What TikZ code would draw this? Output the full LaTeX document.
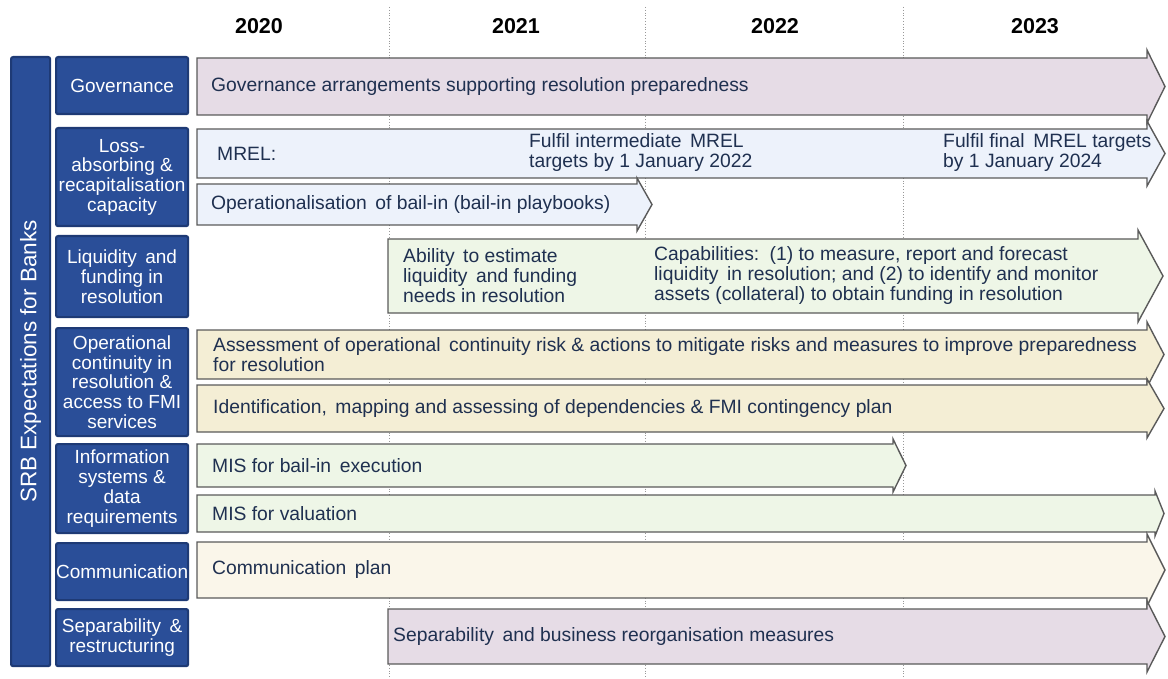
\documentclass[tikz,border=0pt]{standalone}
\usepackage{fontspec}
\setmainfont{Liberation Sans}
\definecolor{catfill}{HTML}{2A4E98}
\definecolor{catline}{HTML}{1E3A75}
\definecolor{barline}{HTML}{5A5A5A}
\definecolor{bartext}{HTML}{1F3050}
\definecolor{cpink}{HTML}{E6DCE6}
\definecolor{cblue}{HTML}{EDF2FB}
\definecolor{cgreen}{HTML}{EEF6E7}
\definecolor{cyellow}{HTML}{F4EED5}
\definecolor{ccream}{HTML}{FAF6EA}
\tikzset{
  catbox/.style={draw=catline, line width=2.2pt, fill=catfill, rounded corners=2pt,
    text=white, align=center, inner sep=0pt, anchor=north west,
    font=\fontsize{19}{19.7}\selectfont},
  bartxt/.style={anchor=west, align=left, inner sep=0pt, text=bartext,
    font=\fontsize{19.3}{20}\selectfont},
  yeartxt/.style={font=\bfseries\fontsize{21.5}{24}\selectfont, text=black},
  gridline/.style={draw=gray!80, line width=0.8pt, dotted},
  barshape/.style={draw=barline, line width=1.4pt, line join=miter},
}
% x0, xbase, xtip, ytop, ybottom, headext, fill
\newcommand\tlarrow[7]{%
  \filldraw[barshape, fill=#7] (#1,#4) -- (#2,#4) -- (#2,{#4-#6}) -- (#3,{(#4+#5)/2})
    -- (#2,{#5+#6}) -- (#2,#5) -- (#1,#5) -- cycle;}
\begin{document}
\begin{tikzpicture}[x=1pt,y=-1pt]
\useasboundingbox (0,0) rectangle (1168,679);
% grid lines
\coordinate (g1t) at (389,7); \coordinate (g1b) at (389,679);
\coordinate (g2t) at (645,7); \coordinate (g2b) at (645,679);
\coordinate (g3t) at (903,7); \coordinate (g3b) at (903,679);
\draw[gridline] (g1t) -- (g1b);
\draw[gridline] (g2t) -- (g2b);
\draw[gridline] (g3t) -- (g3b);
% years
\node[yeartxt] (y2020) at (259,26) {2020};
\node[yeartxt] (y2021) at (516,26) {2021};
\node[yeartxt] (y2022) at (775,26) {2022};
\node[yeartxt] (y2023) at (1035,26) {2023};
% left vertical bar
\node[catbox, minimum width=39pt, minimum height=609pt] (srb) at (10,56) {};
\node[rotate=90, text=white, font=\fontsize{22.5}{24}\selectfont] (srbt) at (srb.center) {SRB Expectations for Banks};
% category boxes
\node[catbox, minimum width=132pt, minimum height=57pt] (c1) at (55,56) {Governance};
\node[catbox, minimum width=132pt, minimum height=98pt] (c2) at (55,127) {Loss-\\absorbing \&\\recapitalisation\\capacity};
\node[catbox, minimum width=132pt, minimum height=81pt] (c3) at (55,235) {Liquidity\, and\\funding in\\resolution};
\node[catbox, minimum width=132pt, minimum height=108pt] (c4) at (55,327) {Operational\\continuity in\\resolution \&\\access to FMI\\services};
\node[catbox, minimum width=132pt, minimum height=89pt] (c5) at (55,443) {Information\\systems \&\\data\\requirements};
\node[catbox, minimum width=132pt, minimum height=57pt] (c6) at (55,542) {Communication};
\node[catbox, minimum width=132pt, minimum height=57pt] (c7) at (55,608) {Separability\, \&\\restructuring};
% bars
\tlarrow{197}{1147}{1165}{58}{115}{8}{cpink}
\tlarrow{197}{1147}{1165}{129}{178}{8}{cblue}
\tlarrow{197}{637}{652}{184}{225}{6}{cblue}
\tlarrow{388}{1138}{1163}{239}{313}{9}{cgreen}
\tlarrow{197}{1147}{1164}{330}{379}{8}{cyellow}
\tlarrow{197}{1147}{1164}{385}{432}{6}{cyellow}
\tlarrow{197}{893}{906}{444}{487}{5}{cgreen}
\tlarrow{197}{1155}{1164}{495}{532}{4}{cgreen}
\tlarrow{197}{1147}{1165}{542}{598}{8}{ccream}
\tlarrow{388}{1147}{1165}{609}{664}{8}{cpink}
% bar texts
\node[bartxt] (t1) at (211,86.5) {Governance arrangements supporting resolution preparedness};
\node[bartxt] (t2a) at (217,153.5) {MREL:};
\node[bartxt] (t2b) at (529,153) {Fulfil intermediate\, MREL\\targets by 1 January 2022};
\node[bartxt] (t2c) at (943,153) {Fulfil final\, MREL targets\\by 1 January 2024};
\node[bartxt] (t3) at (211,205) {Operationalisation\, of bail-in (bail-in playbooks)};
\node[bartxt] (t4a) at (403,276) {Ability\, to estimate\\liquidity\, and funding\\needs in resolution};
\node[bartxt] (t4b) at (654,276) {Capabilities:\, (1) to measure, report and forecast\\liquidity\, in resolution; and (2) to identify and monitor\\assets (collateral) to obtain funding in resolution};
\node[bartxt] (t5) at (213,354.5) {Assessment of operational\, continuity risk \& actions to mitigate risks and measures to improve preparedness\\for resolution};
\node[bartxt] (t6) at (213,408.5) {Identification,\, mapping and assessing of dependencies \& FMI contingency plan};
\node[bartxt] (t7) at (212,465.5) {MIS for bail-in\, execution};
\node[bartxt] (t8) at (212,513.5) {MIS for valuation};
\node[bartxt] (t9) at (212,570) {Communication\, plan};
\node[bartxt] (t10) at (393,636.5) {Separability\, and business reorganisation measures};
\end{tikzpicture}
\end{document}
